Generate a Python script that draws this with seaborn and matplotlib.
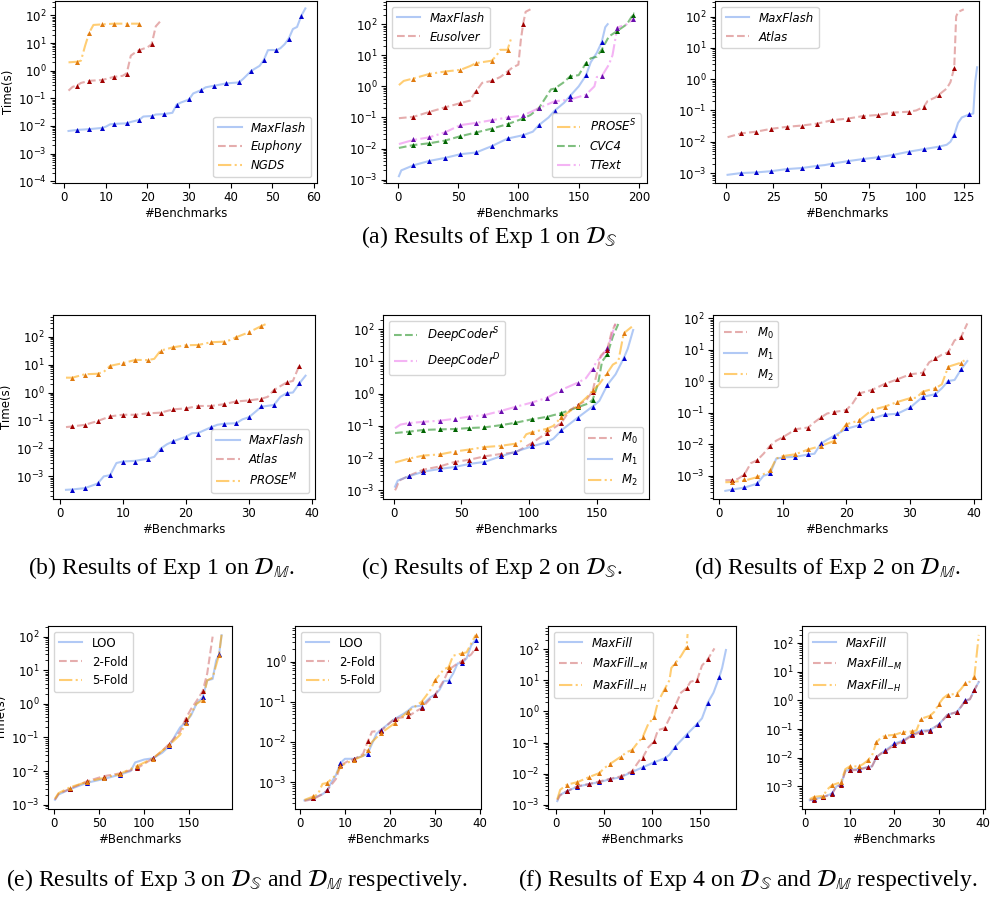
import matplotlib
matplotlib.use('Agg')
import matplotlib.pyplot as plt
import seaborn as sns

# ---------------- (a) Exp 1 on D_S ----------------
a1_mark_x = [3, 6, 9, 12, 15, 18, 21, 24, 27, 30, 33, 36, 39, 42, 45, 48, 51, 54, 57]
a1_flash_x = [1, 3, 6, 9, 10, 11, 12, 15, 16, 18, 19, 21, 22, 24, 26, 27, 28, 30, 31, 33, 34, 36, 39, 42, 43, 45, 47, 48, 49, 50, 51, 52, 53, 54, 55, 56, 57, 58]
a1_flash_y = [0.0066, 0.0072, 0.0077, 0.0085, 0.0095, 0.0115, 0.0119, 0.0125, 0.014, 0.0166, 0.022, 0.023, 0.026, 0.027, 0.03, 0.059, 0.07, 0.091, 0.15, 0.2, 0.25, 0.285, 0.347, 0.376, 0.5, 0.99, 1.5, 2.45, 5.5, 5.6, 5.5, 6.5, 9, 14.5, 32, 38, 95, 178]
a1_flash_m = [0.0072, 0.0078, 0.0085, 0.0119, 0.0125, 0.0166, 0.023, 0.027, 0.059, 0.091, 0.2, 0.285, 0.347, 0.376, 0.99, 2.45, 5.5, 14.5, 95]
a1_euph_x = [1, 2, 3, 4, 6, 9, 10, 12, 14, 15, 16, 17, 18, 20, 21, 22, 23]
a1_euph_y = [0.19, 0.26, 0.29, 0.36, 0.43, 0.46, 0.5, 0.6, 0.65, 0.8, 3.5, 4.5, 5.5, 7, 9, 40, 59]
a1_euph_m = [0.285, 0.43, 0.45, 0.6, 0.79, 5.5, 9]
a1_ngds_x = [1, 3, 4, 5, 6, 7, 9, 12, 15, 18]
a1_ngds_y = [2.0, 2.1, 2.3, 8, 24, 45, 47, 50, 50, 50]
a1_ngds_m = [2.1, 23.8, 47, 50, 50, 50]

a2_mark_x = [13, 26, 39, 52, 65, 78, 91, 104, 117, 130, 143, 156, 169, 182, 195]
a2_flash_x = [1, 3, 13, 26, 39, 52, 65, 70, 78, 91, 100, 104, 112, 117, 125, 130, 138, 143, 150, 156, 160, 165, 169, 172, 174]
a2_flash_y = [0.0013, 0.002, 0.0029, 0.004, 0.005, 0.0066, 0.0075, 0.009, 0.012, 0.021, 0.025, 0.027, 0.035, 0.057, 0.1, 0.165, 0.3, 0.5, 1.0, 2.24, 6, 12, 26, 80, 100]
a2_flash_m = [0.0029, 0.004, 0.005, 0.0066, 0.0078, 0.012, 0.022, 0.027, 0.057, 0.163, 0.5, 2.24, 26]
a2_euso_x = [1, 13, 26, 39, 52, 60, 63, 65, 70, 78, 85, 91, 95, 100, 102, 104, 106, 110]
a2_euso_y = [0.095, 0.105, 0.15, 0.21, 0.29, 0.35, 0.55, 0.7, 1.3, 1.5, 2, 3, 4, 5, 30, 105, 250, 300]
a2_euso_m = [0.103, 0.15, 0.22, 0.3, 0.7, 1.55, 3.0, 105]
a2_prose_x = [1, 5, 13, 26, 39, 52, 60, 65, 78, 82, 85, 91, 94]
a2_prose_y = [1.1, 1.5, 1.8, 2.5, 3.0, 3.4, 4.5, 5.6, 6.7, 10, 15, 15, 35]
a2_prose_m = [1.76, 2.5, 3.0, 3.4, 5.6, 6.7, 14.8]
a2_cvc4_x = [1, 13, 26, 39, 52, 65, 78, 91, 104, 110, 117, 122, 127, 130, 137, 143, 150, 156, 160, 165, 169, 175, 182, 190, 196]
a2_cvc4_y = [0.0105, 0.013, 0.0148, 0.018, 0.025, 0.033, 0.044, 0.061, 0.093, 0.12, 0.2, 0.4, 0.8, 0.85, 1.3, 2.1, 2.3, 5.6, 8, 9, 15, 40, 61, 100, 235]
a2_cvc4_m = [0.013, 0.0148, 0.018, 0.025, 0.033, 0.044, 0.061, 0.093, 0.2, 0.84, 2.1, 5.6, 14.8, 61, 200]
a2_ttext_x = [1, 13, 26, 39, 52, 65, 78, 91, 104, 117, 130, 143, 156, 163, 165, 169, 175, 178, 182, 190, 195, 196]
a2_ttext_y = [0.014, 0.019, 0.023, 0.033, 0.057, 0.067, 0.082, 0.1, 0.116, 0.2, 0.33, 0.38, 0.54, 1.0, 2, 2.1, 5, 10, 78, 100, 144, 150]
a2_ttext_m = [0.02, 0.023, 0.033, 0.057, 0.067, 0.082, 0.1, 0.116, 0.2, 0.33, 0.38, 0.54, 2.1, 78, 144]

a3_mark_x = [8, 16, 24, 32, 40, 48, 56, 64, 72, 80, 88, 96, 104, 112, 120, 128]
a3_flash_x = [1, 8, 16, 24, 32, 40, 48, 52, 56, 64, 72, 80, 88, 96, 104, 112, 116, 118, 120, 122, 124, 128, 130, 131, 132]
a3_flash_y = [0.00088, 0.001, 0.00105, 0.00115, 0.00134, 0.00145, 0.0017, 0.0018, 0.002, 0.0024, 0.0028, 0.0032, 0.0038, 0.0048, 0.0058, 0.007, 0.008, 0.01, 0.0166, 0.04, 0.06, 0.075, 0.08, 0.8, 2.4]
a3_flash_m = [0.001, 0.00105, 0.00115, 0.00134, 0.00145, 0.0017, 0.002, 0.0024, 0.0028, 0.0032, 0.0038, 0.0048, 0.0058, 0.007, 0.0166, 0.08]
a3_atlas_x = [1, 8, 16, 24, 32, 40, 48, 56, 64, 72, 80, 88, 96, 100, 104, 106, 110, 112, 116, 118, 120, 121, 122, 125]
a3_atlas_y = [0.014, 0.0185, 0.021, 0.026, 0.03, 0.033, 0.038, 0.049, 0.055, 0.066, 0.072, 0.086, 0.091, 0.1, 0.13, 0.2, 0.26, 0.32, 0.5, 0.8, 2.3, 100, 140, 170]
a3_atlas_m = [0.0185, 0.021, 0.026, 0.03, 0.033, 0.038, 0.049, 0.055, 0.066, 0.072, 0.086, 0.091, 0.13, 0.32, 2.3]
a3_ticks = [0, 25, 50, 75, 100, 125]

# ---------------- (b) Exp 1 on D_M ----------------
b_mark_x = [2, 4, 6, 8, 10, 12, 14, 16, 18, 20, 22, 24, 26, 28, 30, 32, 34, 36, 38]
b1_flash_x = [1, 2, 4, 6, 7, 8, 9, 10, 12, 14, 15, 16, 17, 18, 20, 21, 22, 24, 25, 26, 28, 29, 30, 31, 32, 34, 35, 36, 37, 38, 39]
b1_flash_y = [0.00033, 0.00034, 0.00038, 0.00055, 0.001, 0.0011, 0.003, 0.0034, 0.0036, 0.0043, 0.005, 0.0098, 0.014, 0.018, 0.026, 0.035, 0.036, 0.057, 0.07, 0.076, 0.08, 0.11, 0.13, 0.2, 0.31, 0.36, 0.7, 0.95, 1.0, 2.1, 4.0]
b1_flash_m = [0.00033, 0.00038, 0.00057, 0.0011, 0.0032, 0.0034, 0.0042, 0.0098, 0.018, 0.026, 0.033, 0.057, 0.076, 0.08, 0.13, 0.32, 0.36, 0.95, 2.15]
b1_atlas_x = [1, 2, 4, 6, 8, 10, 12, 14, 16, 18, 20, 22, 24, 26, 28, 30, 32, 33, 34, 36, 37, 38]
b1_atlas_y = [0.058, 0.061, 0.07, 0.095, 0.14, 0.16, 0.16, 0.18, 0.19, 0.25, 0.27, 0.33, 0.33, 0.38, 0.48, 0.52, 0.6, 0.7, 1.24, 2.3, 2.6, 9.2]
b1_atlas_m = [0.061, 0.07, 0.095, 0.139, 0.16, 0.16, 0.18, 0.19, 0.25, 0.27, 0.33, 0.33, 0.38, 0.48, 0.52, 0.58, 1.24, 2.3, 9.2]
b1_prose_x = [1, 2, 4, 6, 7, 8, 10, 12, 14, 15, 16, 18, 20, 22, 24, 26, 27, 28, 30, 32, 33]
b1_prose_y = [3.4, 3.4, 4.5, 4.7, 5.5, 9, 11.2, 14.7, 14.5, 16, 31.6, 41.6, 49, 50.5, 63, 66, 75, 95, 143, 240, 300]
b1_prose_m = [3.25, 4.3, 4.6, 9.0, 11.2, 14.7, 14.3, 31.6, 41.6, 49, 50.5, 63, 66, 95, 143, 240]

# ---------------- (c) Exp 2 on D_S ----------------
s_mark_x = [11, 22, 34, 45, 56, 67, 79, 90, 102, 113, 124, 136, 147, 158, 170]
m1_s_x = [1, 3, 11, 22, 34, 45, 56, 67, 79, 90, 102, 113, 118, 124, 136, 147, 152, 158, 164, 170, 173, 177]
m1_s_y = [0.0013, 0.002, 0.0027, 0.0038, 0.0046, 0.0053, 0.0066, 0.0076, 0.0113, 0.0158, 0.023, 0.031, 0.04, 0.073, 0.18, 0.4, 0.6, 1.9, 4, 12.6, 25, 95]
m1_s_m = [0.0027, 0.0038, 0.0046, 0.0053, 0.0066, 0.0076, 0.0113, 0.0158, 0.023, 0.031, 0.073, 0.18, 0.4, 1.9, 12.6]
m0_s_x = [1, 2, 4, 11, 22, 34, 45, 56, 67, 79, 90, 102, 113, 124, 130, 136, 142, 147, 150, 153, 158, 161, 164]
m0_s_y = [0.001, 0.0012, 0.002, 0.0028, 0.0044, 0.0055, 0.0076, 0.0089, 0.0113, 0.0134, 0.015, 0.029, 0.06, 0.125, 0.3, 0.45, 0.6, 1.2, 4, 15, 25, 80, 150]
m0_s_m = [0.0028, 0.0044, 0.0055, 0.0076, 0.0089, 0.0113, 0.0134, 0.015, 0.029, 0.06, 0.125, 0.45, 1.17, 22]
m2_s_x = [1, 11, 22, 34, 45, 56, 67, 79, 90, 95, 98, 102, 113, 118, 124, 136, 143, 147, 152, 158, 162, 166, 170, 176]
m2_s_y = [0.0073, 0.0096, 0.012, 0.013, 0.016, 0.0185, 0.022, 0.024, 0.028, 0.035, 0.055, 0.063, 0.081, 0.1, 0.19, 0.42, 0.8, 1.26, 2, 4.5, 8, 10, 75, 120]
m2_s_m = [0.0096, 0.012, 0.013, 0.016, 0.0185, 0.022, 0.024, 0.028, 0.063, 0.081, 0.19, 0.42, 1.26, 4.5, 75]
dcs_x = [1, 11, 22, 34, 45, 56, 67, 79, 90, 102, 113, 124, 136, 144, 147, 151, 154, 158, 162, 166]
dcs_y = [0.06, 0.066, 0.075, 0.078, 0.08, 0.086, 0.09, 0.105, 0.125, 0.16, 0.19, 0.25, 0.38, 0.5, 0.64, 2, 10, 17, 60, 146]
dcs_m = [0.067, 0.076, 0.08, 0.081, 0.089, 0.09, 0.106, 0.128, 0.166, 0.19, 0.25, 0.4, 0.64, 17]
dcd_x = [1, 5, 11, 22, 34, 45, 56, 67, 79, 90, 102, 113, 124, 136, 142, 147, 150, 154, 158, 161, 164]
dcd_y = [0.085, 0.11, 0.122, 0.134, 0.145, 0.166, 0.195, 0.216, 0.29, 0.39, 0.53, 0.74, 1.32, 2.2, 3, 5.9, 10, 15, 25.7, 60, 160]
dcd_m = [0.122, 0.134, 0.145, 0.166, 0.195, 0.216, 0.29, 0.39, 0.53, 0.74, 1.32, 2.2, 5.9, 25.7]

# ---------------- (d) Exp 2 on D_M ----------------
m0_m_x = [1, 2, 3, 4, 5, 6, 7, 8, 9, 10, 11, 12, 14, 15, 16, 17, 18, 20, 21, 22, 24, 26, 28, 30, 32, 33, 34, 35, 36, 37, 38, 39]
m0_m_y = [0.00072, 0.00073, 0.0008, 0.0011, 0.0025, 0.0031, 0.005, 0.0088, 0.013, 0.0166, 0.022, 0.03, 0.034, 0.05, 0.071, 0.095, 0.105, 0.122, 0.2, 0.41, 0.53, 0.82, 1.15, 1.66, 1.87, 4, 5.3, 7, 8.3, 20, 24.9, 69]
m0_m_m = [0.00073, 0.00117, 0.0031, 0.0088, 0.0166, 0.03, 0.034, 0.071, 0.105, 0.122, 0.41, 0.53, 0.82, 1.15, 1.66, 1.87, 5.3, 8.3, 24.9]
m1_m_x = [1, 2, 4, 6, 7, 8, 9, 10, 12, 14, 15, 16, 17, 18, 20, 22, 24, 26, 28, 30, 32, 34, 35, 36, 37, 38, 39]
m1_m_y = [0.00033, 0.00036, 0.00042, 0.00056, 0.001, 0.00115, 0.0035, 0.0038, 0.004, 0.0047, 0.005, 0.0105, 0.014, 0.018, 0.031, 0.04, 0.064, 0.087, 0.093, 0.145, 0.32, 0.39, 0.6, 1.02, 1.1, 2.35, 4.4]
m1_m_m = [0.00037, 0.00043, 0.00057, 0.00118, 0.0038, 0.004, 0.0048, 0.0107, 0.018, 0.032, 0.041, 0.066, 0.089, 0.095, 0.149, 0.32, 0.4, 1.05, 2.4]
m2_m_x = [1, 2, 4, 6, 8, 9, 10, 12, 14, 16, 18, 20, 22, 24, 26, 28, 30, 31, 32, 34, 35, 36, 38, 39]
m2_m_y = [0.00062, 0.00063, 0.0007, 0.0009, 0.0014, 0.0035, 0.0042, 0.0048, 0.0068, 0.0088, 0.0125, 0.043, 0.057, 0.122, 0.156, 0.22, 0.29, 0.3, 0.47, 0.6, 0.8, 2.9, 3.9, 5.3]
m2_m_m = [0.00065, 0.0008, 0.00098, 0.0015, 0.0042, 0.0048, 0.0069, 0.0089, 0.0126, 0.043, 0.057, 0.122, 0.156, 0.22, 0.29, 0.47, 0.6, 2.9, 3.9]

# ---------------- (e) Exp 3 ----------------
e1_mark_x = [18, 37, 55, 73, 92, 110, 128, 146, 165, 183]
e1_loo_x = [1, 5, 18, 37, 55, 73, 85, 90, 100, 110, 120, 128, 135, 140, 146, 152, 158, 165, 170, 176, 180, 183, 186]
e1_loo_y = [0.0014, 0.002, 0.0029, 0.0045, 0.0058, 0.0078, 0.01, 0.018, 0.022, 0.024, 0.035, 0.055, 0.12, 0.2, 0.28, 0.45, 1.0, 1.6, 5, 5.5, 20, 28, 110]
e1_loo_m = [0.0029, 0.0045, 0.006, 0.0078, 0.013, 0.024, 0.055, 0.28, 1.6, 30]
e1_two_x = [1, 5, 18, 37, 55, 73, 92, 110, 120, 128, 140, 146, 152, 158, 165, 170, 176]
e1_two_y = [0.0014, 0.0021, 0.003, 0.005, 0.007, 0.0085, 0.012, 0.024, 0.04, 0.065, 0.15, 0.36, 0.7, 1.2, 2.4, 8, 100]
e1_two_m = [0.003, 0.005, 0.0068, 0.0085, 0.012, 0.024, 0.065, 0.36, 2.4]
e1_five_x = [1, 5, 18, 37, 55, 73, 92, 110, 120, 128, 140, 146, 152, 158, 165, 170, 176, 183, 186]
e1_five_y = [0.0015, 0.0022, 0.0033, 0.0048, 0.0062, 0.0082, 0.014, 0.024, 0.04, 0.06, 0.12, 0.27, 0.5, 1.0, 1.3, 5, 6, 28, 120]
e1_five_m = [0.0031, 0.0048, 0.0062, 0.0082, 0.014, 0.023, 0.06, 0.27, 1.3, 28]

e2_mark_x = [3, 6, 9, 12, 15, 18, 21, 24, 27, 30, 33, 36, 39]
e2_loo_x = [1, 3, 5, 6, 7, 8, 9, 10, 12, 14, 15, 16, 17, 18, 21, 23, 24, 25, 27, 29, 30, 31, 32, 33, 34, 35, 36, 37, 38, 39]
e2_loo_y = [0.00035, 0.0004, 0.0005, 0.0006, 0.001, 0.0015, 0.003, 0.0038, 0.0038, 0.0045, 0.005, 0.009, 0.016, 0.02, 0.037, 0.05, 0.06, 0.075, 0.08, 0.13, 0.15, 0.2, 0.33, 0.33, 0.5, 0.9, 0.92, 1.2, 2.5, 3.5]
e2_loo_m = [0.0004, 0.00062, 0.003, 0.0037, 0.005, 0.02, 0.037, 0.057, 0.076, 0.149, 0.32, 0.91, 3.46]
e2_two_x = [1, 3, 5, 6, 8, 9, 11, 12, 14, 15, 16, 18, 21, 24, 26, 27, 29, 30, 32, 33, 35, 36, 38, 39]
e2_two_y = [0.00034, 0.00038, 0.0005, 0.00062, 0.0012, 0.0026, 0.0035, 0.0037, 0.005, 0.01, 0.018, 0.019, 0.038, 0.043, 0.06, 0.069, 0.12, 0.149, 0.35, 0.62, 0.9, 1.04, 1.5, 2.14]
e2_two_m = [0.0004, 0.00062, 0.0026, 0.0037, 0.0103, 0.019, 0.038, 0.043, 0.069, 0.149, 0.62, 1.04, 2.14]
e2_five_x = [1, 3, 4, 5, 6, 8, 9, 12, 14, 15, 16, 18, 21, 24, 27, 28, 29, 30, 32, 33, 34, 36, 37, 39]
e2_five_y = [0.00036, 0.00044, 0.0005, 0.0009, 0.00095, 0.0015, 0.0025, 0.0036, 0.0045, 0.0062, 0.01, 0.0166, 0.029, 0.057, 0.1, 0.14, 0.2, 0.34, 0.65, 0.72, 1.4, 1.6, 1.7, 4.6]
e2_five_m = [0.00044, 0.00095, 0.0025, 0.0036, 0.0062, 0.0166, 0.029, 0.057, 0.1, 0.34, 0.72, 1.6, 4.6]

# ---------------- (f) Exp 4 ----------------
f1_m_x = [1, 4, 11, 22, 34, 45, 56, 67, 79, 84, 88, 90, 96, 102, 106, 113, 118, 124, 130, 136, 140, 147, 152, 158, 165]
f1_m_y = [0.0014, 0.002, 0.0027, 0.0039, 0.0046, 0.0056, 0.0068, 0.0081, 0.0118, 0.02, 0.03, 0.032, 0.07, 0.108, 0.25, 0.29, 0.6, 1.5, 4, 5.6, 9, 10.4, 30, 47.6, 107]
f1_m_m = [0.0027, 0.0039, 0.0046, 0.0056, 0.0068, 0.0081, 0.0118, 0.032, 0.108, 0.29, 1.5, 5.6, 10.4, 47.6]
f1_h_x = [1, 4, 11, 22, 34, 45, 50, 56, 67, 74, 79, 85, 90, 96, 102, 106, 113, 118, 120, 124, 130, 136, 137]
f1_h_y = [0.0015, 0.003, 0.0044, 0.0053, 0.0077, 0.0104, 0.015, 0.0204, 0.0345, 0.05, 0.057, 0.1, 0.146, 0.4, 0.64, 2, 5.2, 10, 25, 35.5, 60, 122, 310]
f1_h_m = [0.0044, 0.0053, 0.0077, 0.0104, 0.0204, 0.0345, 0.057, 0.146, 0.64, 5.2, 35.5, 122]

f2_m_x = [1, 2, 4, 6, 7, 8, 9, 10, 12, 14, 15, 16, 17, 18, 20, 22, 24, 26, 28, 30, 32, 34, 35, 36, 37, 38, 39]
f2_m_y = [0.00034, 0.00034, 0.00042, 0.00055, 0.001, 0.0011, 0.0034, 0.0036, 0.0038, 0.0046, 0.005, 0.0105, 0.014, 0.0166, 0.028, 0.037, 0.06, 0.079, 0.088, 0.141, 0.316, 0.39, 0.6, 0.98, 1.1, 2.23, 4.6]
f2_m_m = [0.00034, 0.00042, 0.00055, 0.00108, 0.0036, 0.0038, 0.0046, 0.0105, 0.0166, 0.028, 0.037, 0.06, 0.079, 0.088, 0.141, 0.316, 0.39, 0.98, 2.23]
f2_h_x = [1, 2, 4, 5, 6, 8, 9, 10, 12, 13, 14, 15, 16, 17, 18, 20, 22, 24, 25, 26, 28, 29, 30, 31, 32, 34, 35, 36, 37, 38, 39]
f2_h_y = [0.00036, 0.00043, 0.00047, 0.0008, 0.0011, 0.0014, 0.004, 0.005, 0.005, 0.006, 0.008, 0.012, 0.035, 0.05, 0.059, 0.063, 0.079, 0.083, 0.09, 0.23, 0.29, 0.4, 0.74, 1.2, 1.58, 1.7, 2.5, 4.0, 4.5, 6.5, 195]
f2_h_m = [0.00043, 0.00047, 0.00108, 0.0014, 0.005, 0.005, 0.0081, 0.035, 0.059, 0.063, 0.079, 0.083, 0.23, 0.29, 0.74, 1.58, 1.7, 4.0, 6.5]

# line colour, line style, alpha, marker colour
KIND = {
    'blue': ('cornflowerblue', '-', 0.5, '#0000cc'),
    'red': ('indianred', '--', 0.5, '#a00000'),
    'orange': ('orange', '-.', 0.55, '#e07b10'),
    'green': ('green', '--', 0.5, '#006400'),
    'violet': ('violet', '-.', 0.6, '#6a0dad'),
}
FS = 8.5


def curve(ax, xs, ys, mx, my, kind, label):
    lc, ls, al, mc = KIND[kind]
    sns.lineplot(x=xs, y=ys, ax=ax, color=lc, linestyle=ls, alpha=al, lw=1.5,
                 label=label, sort=False, estimator=None)
    sns.scatterplot(x=mx[:len(my)], y=my, ax=ax, marker='^', color=mc, s=13,
                    linewidth=0, zorder=3)


def box(L, T, R, B):
    return [L / 990, 1 - B / 897, (R - L) / 990, (B - T) / 897]


def setup(ax, xlim, ylim, ylabel=False):
    ax.set_yscale('log')
    ax.set_xlim(*xlim)
    ax.set_ylim(*ylim)
    ax.set_xlabel('#Benchmarks', fontsize=FS, labelpad=2)
    ax.set_ylabel('Time(s)' if ylabel else '', fontsize=FS, labelpad=2)
    ax.tick_params(labelsize=FS, pad=2.5)


def legend(ax, loc, italic=True, sub=None):
    h, l = ax.get_legend_handles_labels()
    if sub is not None:
        h, l = [h[i] for i in sub], [l[i] for i in sub]
    prop = {'size': FS, 'style': 'italic' if italic else 'normal'}
    return ax.legend(h, l, loc=loc, prop=prop)


fig = plt.figure(figsize=(9.9, 8.97), dpi=100)

# (a)
ax = fig.add_axes(box(55, 1, 317, 183))
curve(ax, a1_flash_x, a1_flash_y, a1_mark_x, a1_flash_m, 'blue', 'MaxFlash')
curve(ax, a1_euph_x, a1_euph_y, a1_mark_x, a1_euph_m, 'red', 'Euphony')
curve(ax, a1_ngds_x, a1_ngds_y, a1_mark_x, a1_ngds_m, 'orange', 'NGDS')
setup(ax, (-2.25, 60.8), (8.7e-5, 330), ylabel=True)
legend(ax, 'lower right')

ax = fig.add_axes(box(386, 1, 647, 183))
curve(ax, a2_flash_x, a2_flash_y, a2_mark_x, a2_flash_m, 'blue', 'MaxFlash')
curve(ax, a2_euso_x, a2_euso_y, a2_mark_x, a2_euso_m, 'red', 'Eusolver')
curve(ax, a2_prose_x, a2_prose_y, a2_mark_x, a2_prose_m, 'orange', r'PROSE$^S$')
curve(ax, a2_cvc4_x, a2_cvc4_y, a2_mark_x, a2_cvc4_m, 'green', 'CVC4')
curve(ax, a2_ttext_x, a2_ttext_y, a2_mark_x, a2_ttext_m, 'violet', 'TText')
setup(ax, (-9.7, 206.6), (10 ** -3.106, 10 ** 2.745))
ax.add_artist(legend(ax, 'upper left', sub=[0, 1]))
legend(ax, 'lower right', sub=[2, 3, 4])

ax = fig.add_axes(box(715, 1, 979, 183))
curve(ax, a3_flash_x, a3_flash_y, a3_mark_x, a3_flash_m, 'blue', 'MaxFlash')
curve(ax, a3_atlas_x, a3_atlas_y, a3_mark_x, a3_atlas_m, 'red', 'Atlas')
setup(ax, (-5.6, 133), (10 ** -3.317, 10 ** 2.497))
ax.set_xticks(a3_ticks)
legend(ax, 'upper left')

# (b)
ax = fig.add_axes(box(53, 315, 315, 499))
curve(ax, b1_flash_x, b1_flash_y, b_mark_x, b1_flash_m, 'blue', 'MaxFlash')
curve(ax, b1_atlas_x, b1_atlas_y, b_mark_x, b1_atlas_m, 'red', 'Atlas')
curve(ax, b1_prose_x, b1_prose_y, b_mark_x, b1_prose_m, 'orange', r'PROSE$^M$')
setup(ax, (-1.06, 40.5), (10 ** -3.81, 10 ** 2.774), ylabel=True)
legend(ax, 'lower right')

# (c)
ax = fig.add_axes(box(383, 315, 649, 499))
curve(ax, dcs_x, dcs_y, s_mark_x, dcs_m, 'green', r'DeepCoder$^S$')
curve(ax, dcd_x, dcd_y, s_mark_x, dcd_m, 'violet', r'DeepCoder$^D$')
curve(ax, m0_s_x, m0_s_y, s_mark_x, m0_s_m, 'red', r'M$_0$')
curve(ax, m1_s_x, m1_s_y, s_mark_x, m1_s_m, 'blue', r'M$_1$')
curve(ax, m2_s_x, m2_s_y, s_mark_x, m2_s_m, 'orange', r'M$_2$')
setup(ax, (-7.9, 188.7), (10 ** -3.27, 10 ** 2.444))
ax.add_artist(legend(ax, 'upper left', sub=[0, 1]))
legend(ax, 'lower right', sub=[2, 3, 4])

# (d)
ax = fig.add_axes(box(713, 315, 981, 499))
curve(ax, m0_m_x, m0_m_y, b_mark_x, m0_m_m, 'red', r'M$_0$')
curve(ax, m1_m_x, m1_m_y, b_mark_x, m1_m_m, 'blue', r'M$_1$')
curve(ax, m2_m_x, m2_m_y, b_mark_x, m2_m_m, 'orange', r'M$_2$')
setup(ax, (-0.94, 41.15), (10 ** -3.74, 10 ** 2.106))
legend(ax, 'upper left')

# (e)
ax = fig.add_axes(box(48, 626, 232, 809))
curve(ax, e1_loo_x, e1_loo_y, e1_mark_x, e1_loo_m, 'blue', 'LOO')
curve(ax, e1_two_x, e1_two_y, e1_mark_x, e1_two_m, 'red', '2-Fold')
curve(ax, e1_five_x, e1_five_y, e1_mark_x, e1_five_m, 'orange', '5-Fold')
setup(ax, (-6.7, 197.5), (10 ** -3.13, 10 ** 2.317), ylabel=True)
legend(ax, 'upper left', italic=False)

ax = fig.add_axes(box(295, 626, 481, 809))
curve(ax, e2_loo_x, e2_loo_y, e2_mark_x, e2_loo_m, 'blue', 'LOO')
curve(ax, e2_two_x, e2_two_y, e2_mark_x, e2_two_m, 'red', '2-Fold')
curve(ax, e2_five_x, e2_five_y, e2_mark_x, e2_five_m, 'orange', '5-Fold')
setup(ax, (-1.1, 40.2), (10 ** -3.67, 10 ** 0.886))
legend(ax, 'upper left', italic=False)

# (f)
ax = fig.add_axes(box(548, 626, 736, 809))
curve(ax, m1_s_x, m1_s_y, s_mark_x, m1_s_m, 'blue', 'MaxFill')
curve(ax, f1_m_x, f1_m_y, s_mark_x, f1_m_m, 'red', r'MaxFill$_{-M}$')
curve(ax, f1_h_x, f1_h_y, s_mark_x, f1_h_m, 'orange', r'MaxFill$_{-H}$')
setup(ax, (-8.7, 187.5), (10 ** -3.14, 10 ** 2.75))
legend(ax, 'upper left')

ax = fig.add_axes(box(802, 626, 985, 809))
curve(ax, m1_m_x, m1_m_y, b_mark_x, m1_m_m, 'blue', 'MaxFill')
curve(ax, f2_m_x, f2_m_y, b_mark_x, f2_m_m, 'red', r'MaxFill$_{-M}$')
curve(ax, f2_h_x, f2_h_y, b_mark_x, f2_h_m, 'orange', r'MaxFill$_{-H}$')
setup(ax, (-0.75, 40.4), (10 ** -3.79, 10 ** 2.6))
legend(ax, 'upper left')

# captions
captions = [
    (489, 237, r'(a) Results of Exp 1 on $\mathcal{D}_{\mathbb{S}}$'),
    (161, 568, r'(b) Results of Exp 1 on $\mathcal{D}_{\mathbb{M}}$.'),
    (492, 568, r'(c) Results of Exp 2 on $\mathcal{D}_{\mathbb{S}}$.'),
    (827, 568, r'(d) Results of Exp 2 on $\mathcal{D}_{\mathbb{M}}$.'),
    (237, 880, r'(e) Results of Exp 3 on $\mathcal{D}_{\mathbb{S}}$ and $\mathcal{D}_{\mathbb{M}}$ respectively.'),
    (748, 880, r'(f) Results of Exp 4 on $\mathcal{D}_{\mathbb{S}}$ and $\mathcal{D}_{\mathbb{M}}$ respectively.'),
]
for cx, cy, txt in captions:
    fig.text(cx / 990, 1 - cy / 897, txt, ha='center', va='center', fontsize=17,
             family='Liberation Serif', math_fontfamily='stix')

fig.savefig('out.png', dpi=100)
